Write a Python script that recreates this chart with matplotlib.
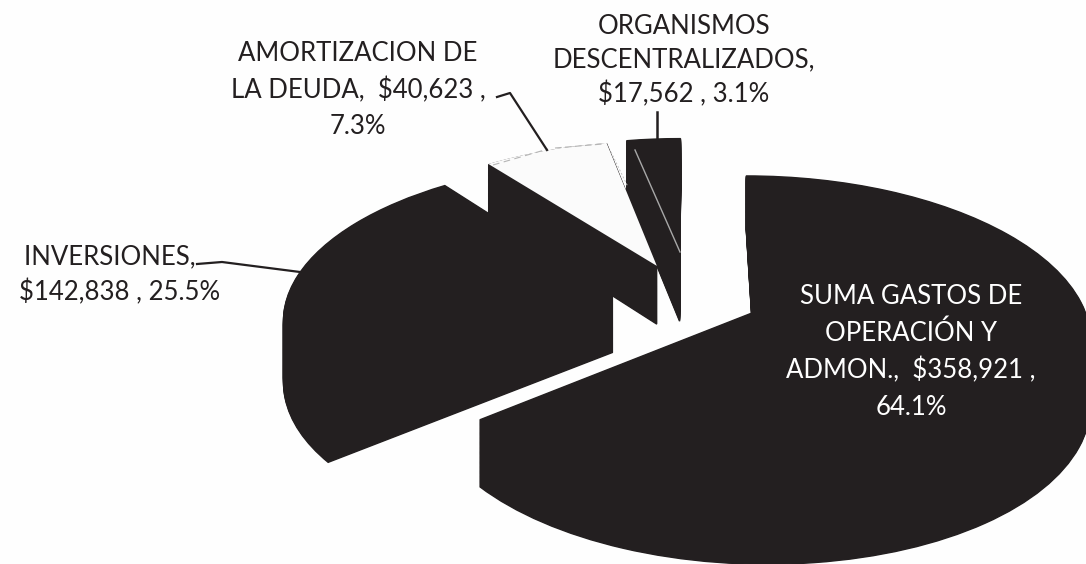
import numpy as np
import matplotlib
matplotlib.use('Agg')
import matplotlib.pyplot as plt
from matplotlib.transforms import Transform

# values
categories = ['SUMA GASTOS DE\nOPERACIÓN Y\nADMON.,  $358,921 ,\n64.1%',
              'INVERSIONES,   \n$142,838 , 25.5%',
              'AMORTIZACION DE\nLA DEUDA,  $40,623 ,\n7.3%',
              'ORGANISMOS\nDESCENTRALIZADOS,\n$17,562 , 3.1%']
values = [358921, 142838, 40623, 17562]
top_colors = ['#231f20', '#231f20', '#fbfbfb', '#231f20']
side_color = '#231f20'

plt.rcParams['font.family'] = ['Lato', 'DejaVu Sans']


# tilts the flat pie into the scanned 3d look, result is in image pixels
class Tilt(Transform):
    input_dims = 2
    output_dims = 2

    def __init__(self, drop=0):
        super().__init__()
        self.drop = drop

    def transform_non_affine(self, xy):
        x, y = xy[:, 0], xy[:, 1]
        wx = 1 + 0.15 * y
        wy = 1 + 0.142 * y
        return np.column_stack([686.7 + 325 * x / wx,
                                296.6 + (self.drop - 151 * y) / wy])


def draw_pie(colors, drop, zorder):
    wedges, _ = ax.pie(values, explode=[0.23] * 4, startangle=90, counterclock=False,
                       colors=colors)
    for w, c in zip(wedges, colors):
        w.set_transform(Tilt(drop) + ax.transData)
        w.set_zorder(zorder)
        # dark slices get an edge so no hairline shows where they touch
        if c == side_color:
            w.set_edgecolor(side_color)
            w.set_linewidth(1)
        else:
            w.set_linewidth(0)
    return wedges


fig = plt.figure(figsize=(10.86, 5.64), dpi=100, facecolor='#fefefe')
ax = fig.add_axes([0, 0, 1, 1])

# side walls, then the top faces
for d in np.linspace(60, 1, 60):
    draw_pie([side_color] * 4, d, 1)
top = draw_pie(top_colors, 0, 2)

ax.set_aspect('auto')
ax.set_xlim(0, 1086)
ax.set_ylim(564, 0)
ax.axis('off')

# faint outline on the light slice
ax.plot([493, 548], [165, 149], color='#b5b5b5', lw=0.8, ls=(0, (6, 4)), zorder=3)
ax.plot([555, 603], [148, 144], color='#b5b5b5', lw=0.8, ls=(0, (6, 3)), zorder=3)
ax.plot([611, 628], [152, 187], color='#c4c4c4', lw=0.7, ls=(0, (2, 2)), zorder=3)
# light streak in the small slice
ax.plot([635, 680], [150, 252], color='#a8a8a8', lw=1, zorder=3)

# leader lines
ax.plot([197, 222, 300], [264, 262, 272], color='#231f20', lw=1.6, zorder=3)
ax.plot([497, 510, 547], [97, 93, 150], color='#231f20', lw=1.6, zorder=3)
ax.plot([657, 657], [112, 141], color='#231f20', lw=1.8, zorder=3)

# labels
ax.text(911, 352, categories[0], color='white', fontsize=18.5, ha='center', va='center',
        linespacing=1.55, zorder=4)
ax.text(120, 275, categories[1], color='#231f20', fontsize=18.5, ha='center', va='center',
        linespacing=1.48, zorder=4)
ax.text(358, 90, categories[2], color='#231f20', fontsize=18.5, ha='center', va='center',
        linespacing=1.55, zorder=4)
ax.text(684, 61, categories[3], color='#231f20', fontsize=18.5, ha='center', va='center',
        linespacing=1.42, zorder=4)

fig.savefig('out.png', dpi=100, facecolor=fig.get_facecolor())
